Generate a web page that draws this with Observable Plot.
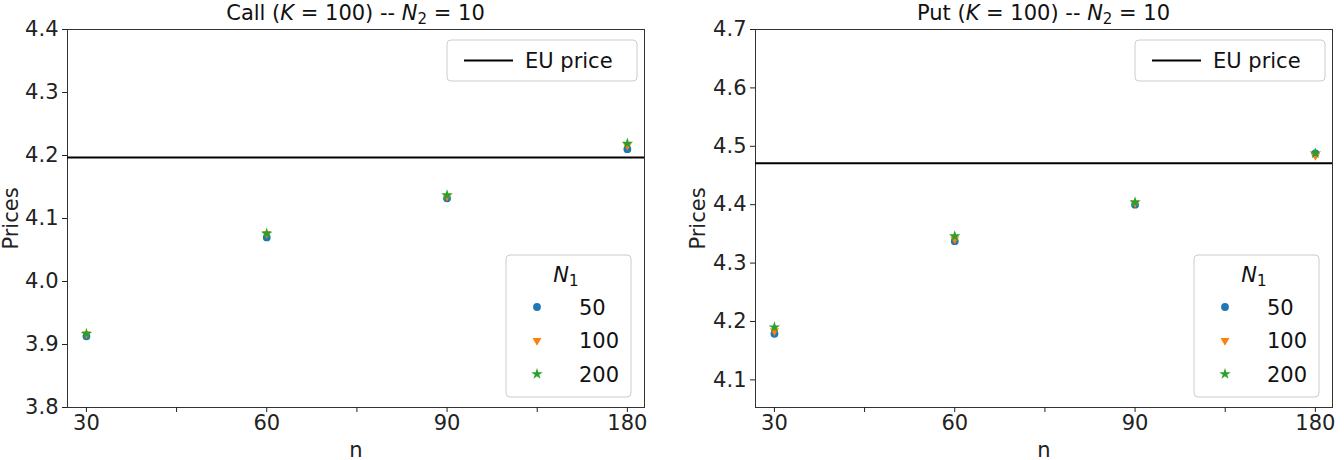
<!DOCTYPE html>
<html>
<head>
<meta charset="utf-8">
<script src="https://cdn.jsdelivr.net/npm/d3@7"></script>
<script src="https://cdn.jsdelivr.net/npm/@observablehq/plot@0.6"></script>
<style>
  body { margin: 0; background: #fff; }
  #wrap { display: flex; width: 1344px; height: 460px; }
  #wrap > div { width: 672px; height: 460px; }
  svg { font-family: "DejaVu Sans", sans-serif; }
</style>
</head>
<body>
<div id="wrap"><div id="left"></div><div id="right"></div></div>
<script>
// ---- data ----
const nLabels = ["30", "60", "90", "180"];
const N1Levels = ["50", "100", "200"];
const callN50  = [3.913, 4.070, 4.132, 4.210];
const callN100 = [3.917, 4.076, 4.135, 4.216];
const callN200 = [3.917, 4.076, 4.137, 4.219];
const callEU = 4.197;
const putN50  = [4.179, 4.3375, 4.400, 4.488];
const putN100 = [4.184, 4.341, 4.403, 4.484];
const putN200 = [4.190, 4.346, 4.404, 4.488];
const putEU = 4.471;
const callTicks = [3.8, 3.9, 4.0, 4.1, 4.2, 4.3, 4.4];
const putTicks = [4.1, 4.2, 4.3, 4.4, 4.5, 4.6, 4.7];

const colors = ["#1f77b4", "#ff7f0e", "#2ca02c"];
const symbols = ["circle", "triangle", "star"];
const rotations = [0, 180, 0];
const radii = [3.9, 3.3, 3.6];
const FS = 21;
const TFS = 21;

function toRows(series) {
  const rows = [];
  series.forEach((vals, s) => vals.forEach((v, i) => rows.push({pos: i, n: nLabels[i], N1: N1Levels[s], s, price: v})));
  return rows;
}

function panel(opts) {
  const rows = toRows(opts.series);
  const xTicks = d3.range(0, nLabels.length - 0.5 + 0.01, 0.5);
  const marks = [
    Plot.frame({stroke: "#333", strokeWidth: 1}),
    Plot.axisY({ticks: opts.yTicks, tickSize: 5, tickPadding: 4, tickFormat: d3.format(".1f"), fontSize: FS,
      label: "Prices", labelAnchor: "center", labelOffset: opts.labelOffsetY, labelArrow: "none"}),
    Plot.axisX({ticks: xTicks, tickSize: 5, tickPadding: 3, fontSize: FS,
      tickFormat: d => Number.isInteger(d) ? nLabels[d] : "",
      label: "n", labelAnchor: "center", labelOffset: 49, labelArrow: "none"}),
    Plot.ruleY([opts.eu], {stroke: "#000", strokeWidth: 2})
  ];
  [0, 1, 2].forEach(s => {
    marks.push(Plot.dot(rows.filter(d => d.s === s), {
      x: "pos", y: "price", symbol: () => symbols[s], r: radii[s], rotate: rotations[s],
      fill: colors[s], stroke: "none"
    }));
  });
  const svg = Plot.plot({
    width: 672, height: 460,
    marginLeft: opts.ml, marginRight: opts.mr, marginTop: 29, marginBottom: 53,
    style: {fontFamily: "DejaVu Sans, sans-serif", fontSize: FS + "px", color: "#222"},
    x: {domain: [-0.105, 3.095]},
    y: {domain: opts.yDomain},
    symbol: {type: "identity"},
    marks
  });
  const sel = d3.select(svg);
  const left = opts.ml, right = 672 - opts.mr, cx = (left + right) / 2;

  // title with mathtext-like pieces
  const t = sel.append("text").attr("x", cx).attr("y", 20).attr("text-anchor", "middle")
    .attr("font-size", TFS).attr("fill", "#111");
  t.append("tspan").text(opts.kind + " (");
  t.append("tspan").attr("font-style", "italic").text("K");
  t.append("tspan").text(" = 100) -- ");
  t.append("tspan").attr("font-style", "italic").text("N");
  t.append("tspan").attr("font-size", 15).attr("dy", 4).text("2");
  t.append("tspan").attr("dy", -4).text(" = 10");

  // legend: EU price
  const g1 = sel.append("g").attr("transform", `translate(${right - 197},40)`);
  g1.append("rect").attr("width", 190).attr("height", 41).attr("rx", 4)
    .attr("fill", "#fff").attr("fill-opacity", 0.85).attr("stroke", "#ccc");
  g1.append("line").attr("x1", 17).attr("x2", 66).attr("y1", 20.5).attr("y2", 20.5).attr("stroke", "#000").attr("stroke-width", 2);
  g1.append("text").attr("x", 78).attr("y", 28).attr("text-anchor", "start").attr("font-size", FS).attr("fill", "#111").text("EU price");

  // legend: N1
  const g2 = sel.append("g").attr("transform", `translate(${right - 138},255)`);
  g2.append("rect").attr("width", 125).attr("height", 142).attr("rx", 4)
    .attr("fill", "#fff").attr("fill-opacity", 0.85).attr("stroke", "#ccc");
  const lt = g2.append("text").attr("x", 60).attr("y", 27).attr("text-anchor", "middle").attr("font-size", FS).attr("fill", "#111");
  lt.append("tspan").attr("font-style", "italic").text("N");
  lt.append("tspan").attr("font-size", 15).attr("dy", 4).text("1");
  N1Levels.forEach((lab, s) => {
    const y = 52 + s * 33.5;
    const sym = d3.symbol().type(s === 0 ? d3.symbolCircle : s === 1 ? d3.symbolTriangle : d3.symbolStar)
      .size(Math.PI * radii[s] * radii[s]);
    g2.append("path").attr("d", sym()).attr("fill", colors[s])
      .attr("transform", `translate(31,${y}) rotate(${rotations[s]})`);
    g2.append("text").attr("x", 73).attr("y", y + 7.5).attr("text-anchor", "start").attr("font-size", FS).attr("fill", "#111").text(lab);
  });
  return svg;
}

document.getElementById("left").append(panel({
  kind: "Call", series: [callN50, callN100, callN200], eu: callEU,
  yDomain: [3.8, 4.4], yTicks: callTicks, ml: 67, mr: 28, labelOffsetY: 64
}));
document.getElementById("right").append(panel({
  kind: "Put", series: [putN50, putN100, putN200], eu: putEU,
  yDomain: [4.0527, 4.7], yTicks: putTicks, ml: 83, mr: 12, labelOffsetY: 65
}));
</script>
</body>
</html>
